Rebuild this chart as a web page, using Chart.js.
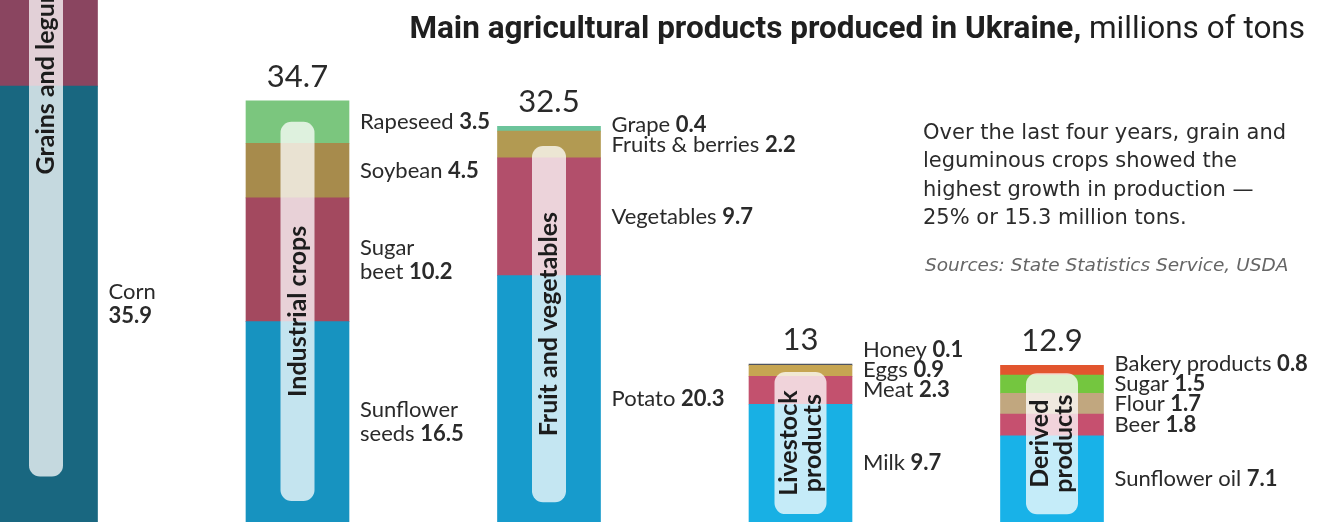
<!DOCTYPE html>
<html lang="en">

<head>
    <meta charset="UTF-8" />
    <title>Main agricultural products produced in Ukraine</title>
    <script src="https://cdn.jsdelivr.net/npm/chart.js@4"></script>
    <style>
        html, body { margin: 0; padding: 0; background: #fff; }
        .wrap { position: relative; width: 1322px; height: 522px; overflow: hidden; }
        #chart { position: absolute; left: 0; top: 0; }
        .title { position: absolute; right: 17px; top: 10px; font-family: Roboto, sans-serif; font-size: 31.5px; line-height: 36px; color: #1f1f1f; white-space: nowrap; }
        .title b { font-weight: 700; }
        .note { position: absolute; left: 923px; top: 118px; font-family: "DejaVu Sans", sans-serif; font-size: 21px; line-height: 28.3px; color: #2b2b2b; white-space: nowrap; }
        .source { position: absolute; left: 925px; top: 254px; font-family: "DejaVu Sans", sans-serif; font-style: italic; font-size: 18.5px; color: #666; white-space: nowrap; }
    </style>
</head>

<body>
    <div class="wrap">
        <canvas id="chart" width="1322" height="522"></canvas>
        <div class="title"><b>Main agricultural products produced in Ukraine,</b> millions of tons</div>
        <div class="note">Over the last four years, grain and<br>leguminous crops showed the<br>highest growth in production —<br>25% or 15.3 million tons.</div>
        <div class="source">Sources: State Statistics Service, USDA</div>
    </div>

<script>
    // groups (one bar each) and totals printed above the bars
    const groups = ['Grains and legumes', 'Industrial crops', 'Fruit and vegetables', 'Livestock\nproducts', 'Derived\nproducts'];
    const totals = [75.1, 34.7, 32.5, 13, 12.9];

    // stacked layers, bottom to top
    const layer1 = [35.9, 16.5, 20.3, 9.7, 7.1];
    const layer1Names = ['Corn\n', 'Sunflower\nseeds', 'Potato', 'Milk', 'Sunflower oil'];
    const layer2 = [28.4, 10.2, 9.7, 2.3, 1.8];
    const layer2Names = ['Wheat', 'Sugar\nbeet', 'Vegetables', 'Meat', 'Beer'];
    const layer3 = [8.9, 4.5, 2.2, 0.9, 1.7];
    const layer3Names = ['Barley', 'Soybean', 'Fruits & berries', 'Eggs', 'Flour'];
    const layer4 = [1.9, 3.5, 0.4, 0.1, 1.5];
    const layer4Names = ['Other', 'Rapeseed', 'Grape', 'Honey', 'Sugar'];
    const layer5 = [null, null, null, null, 0.8];
    const layer5Names = ['', '', '', '', 'Bakery products'];

    const layer1Colors = ['#196780', '#1793c0', '#179bcc', '#18b0e4', '#18b2e8'];
    const layer2Colors = ['#8a4560', '#a3495f', '#b24f6b', '#c3516e', '#c6506f'];
    const layer3Colors = ['#a58b55', '#a78b4c', '#b29a52', '#c6a552', '#c1a77f'];
    const layer4Colors = ['#78c07c', '#7bc67e', '#6cc49b', '#4e5360', '#74c63f'];
    const layer5Colors = ['#e2552e', '#e2552e', '#e2552e', '#e2552e', '#e2552e'];

    const layers = [layer1, layer2, layer3, layer4, layer5];
    const names = [layer1Names, layer2Names, layer3Names, layer4Names, layer5Names];
    const colors = [layer1Colors, layer2Colors, layer3Colors, layer4Colors, layer5Colors];

    const labelFont = 'Lato, sans-serif';

    // pills, totals and product labels
    const decorPlugin = {
        id: 'decor',
        afterDatasetsDraw(chart) {
            const ctx = chart.ctx;
            groups.forEach((group, i) => {
                const segs = [];
                chart.data.datasets.forEach((ds, d) => {
                    if (ds.data[i] == null) return;
                    segs.push({ el: chart.getDatasetMeta(d).data[i], name: names[d][i], value: ds.data[i] });
                });
                const base = segs[0].el.base;
                const top = segs[segs.length - 1].el.y;
                const cx = segs[0].el.x;
                const bw = segs[0].el.width;

                // rounded light pill with the group name
                const glines = group.split('\n');
                const pw = glines.length > 1 ? 52 : 34;
                const inset = Math.max(6, (base - top) * 0.05);
                const py0 = top + inset, py1 = base - inset;
                ctx.save();
                ctx.fillStyle = 'rgba(255,255,255,0.75)';
                ctx.beginPath();
                ctx.roundRect(cx - pw / 2, py0, pw, py1 - py0, 11);
                ctx.fill();
                ctx.translate(cx, (py0 + py1) / 2);
                ctx.rotate(-Math.PI / 2);
                ctx.fillStyle = '#1c1c1c';
                ctx.font = 'bold 25px ' + labelFont;
                ctx.textAlign = 'center';
                ctx.textBaseline = 'middle';
                glines.forEach((t, k) => {
                    ctx.fillText(t, 0, (k - (glines.length - 1) / 2) * 24);
                });
                ctx.restore();

                // total above the bar
                ctx.save();
                ctx.fillStyle = '#2a2a2a';
                ctx.font = '31px ' + labelFont;
                ctx.textAlign = 'center';
                ctx.textBaseline = 'alphabetic';
                ctx.fillText(String(totals[i]), cx, top - 14);
                ctx.restore();

                // product labels, pushed up when they would overlap
                ctx.save();
                ctx.fillStyle = '#2a2a2a';
                ctx.textBaseline = 'middle';
                const lx = cx + bw / 2 + 11;
                const lineH = 24;
                let prevY = null, prevH = 0;
                segs.forEach(s => {
                    const lines = s.name.split('\n');
                    const h = lines.length === 1 ? 20 : lines.length * lineH;
                    let y = (s.el.y + s.el.base) / 2;
                    if (prevY !== null) y = Math.min(y, prevY - (prevH + h) / 2);
                    prevY = y; prevH = h;
                    lines.forEach((t, k) => {
                        const ly = y + (k - (lines.length - 1) / 2) * lineH;
                        let x = lx;
                        ctx.font = '22px ' + labelFont;
                        if (t) {
                            ctx.fillText(t, x, ly);
                            x += ctx.measureText(t + ' ').width;
                        }
                        if (k === lines.length - 1) {
                            ctx.font = 'bold 22px ' + labelFont;
                            ctx.fillText(String(s.value), x, ly);
                        }
                    });
                });
                ctx.restore();
            });
        }
    };

    const chart = new Chart(document.getElementById('chart'), {
        type: 'bar',
        data: {
            labels: groups,
            datasets: layers.map((data, d) => ({
                data: data,
                backgroundColor: colors[d],
                borderWidth: 0,
                barThickness: 103,
                clip: false
            }))
        },
        options: {
            responsive: false,
            animation: false,
            layout: { padding: { left: 46, right: 270, top: 0, bottom: 0 } },
            plugins: { legend: false, tooltip: { enabled: false } },
            scales: {
                x: { stacked: true, offset: false, display: false },
                y: { stacked: true, min: 0, max: 43, display: false }
            }
        },
        plugins: [decorPlugin]
    });
</script>
</body>

</html>
